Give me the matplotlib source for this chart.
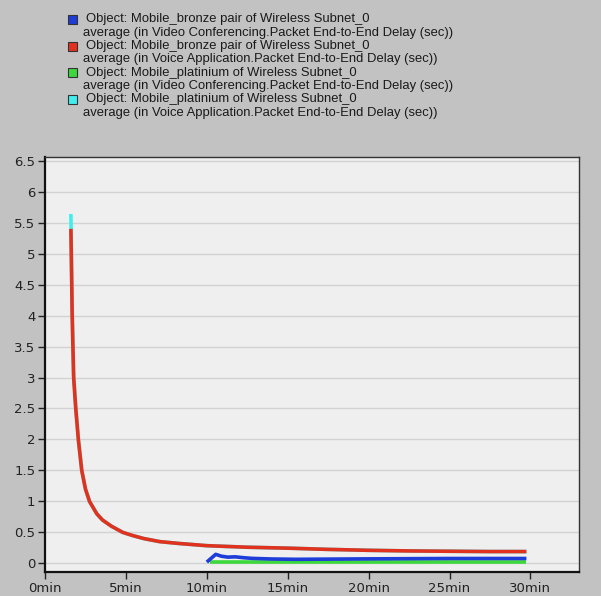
import matplotlib
matplotlib.use("Agg")
import matplotlib.pyplot as plt
from matplotlib.patches import Rectangle

# ---- data (time in minutes, delay in seconds) ----
red_t = [1.6, 1.68, 1.77, 1.9, 2.06, 2.27, 2.5, 2.75, 3.2, 3.55, 4.1, 4.8, 5.4, 6.1,
         7.1, 8.3, 10, 12.5, 15, 17.5, 20, 22.5, 25, 27.5, 29.75]
red_v = [5.40, 4.0, 3.0, 2.5, 2.0, 1.5, 1.2, 1.0, 0.8, 0.7, 0.6, 0.5, 0.45, 0.4,
         0.35, 0.32, 0.285, 0.26, 0.245, 0.225, 0.21, 0.2, 0.195, 0.19, 0.19]

cyan_t = [1.6, 1.68, 1.77, 1.9, 2.06, 2.27, 2.5, 2.75, 3.2, 3.55, 4.1, 4.8, 5.4, 6.1,
          7.1, 8.3, 10, 12.5, 15, 17.5, 20, 22.5, 25, 27.5, 29.75]
cyan_v = [5.64, 4.1, 3.05, 2.52, 2.01, 1.51, 1.2, 1.0, 0.8, 0.7, 0.6, 0.5, 0.45, 0.4,
          0.35, 0.32, 0.285, 0.26, 0.245, 0.225, 0.21, 0.2, 0.195, 0.19, 0.19]

blue_t = [10.0, 10.55, 10.9, 11.3, 11.75, 12.3, 12.8, 14.0, 15.5, 17.5, 20, 22.5, 25, 27.5, 29.75]
blue_v = [0.02, 0.145, 0.115, 0.10, 0.105, 0.09, 0.08, 0.07, 0.065, 0.068, 0.072, 0.075, 0.078, 0.078, 0.078]

green_t = [10.2, 12, 15, 20, 25, 29.75]
green_v = [0.015, 0.015, 0.015, 0.015, 0.015, 0.015]

yticks = [0, 0.5, 1, 1.5, 2, 2.5, 3, 3.5, 4, 4.5, 5, 5.5, 6, 6.5]
ytick_labels = ["0", "0.5", "1", "1.5", "2", "2.5", "3", "3.5", "4", "4.5", "5", "5.5", "6", "6.5"]
xticks = [0, 5, 10, 15, 20, 25, 30]
xtick_labels = ["0min", "5min", "10min", "15min", "20min", "25min", "30min"]

legend_lines = [
    "Object: Mobile_bronze pair of Wireless Subnet_0",
    "average (in Video Conferencing.Packet End-to-End Delay (sec))",
    "Object: Mobile_bronze pair of Wireless Subnet_0",
    "average (in Voice Application.Packet End-to-End Delay (sec))",
    "Object: Mobile_platinium of Wireless Subnet_0",
    "average (in Video Conferencing.Packet End-to-End Delay (sec))",
    "Object: Mobile_platinium of Wireless Subnet_0",
    "average (in Voice Application.Packet End-to-End Delay (sec))",
]

BLUE = "#1e3cd8"
RED = "#e0321e"
GREEN = "#3cd83c"
CYAN = "#40eeee"
colors = [BLUE, RED, GREEN, CYAN]

W, H = 601, 596
fig = plt.figure(figsize=(W / 100, H / 100), dpi=100)
fig.patch.set_facecolor("#c2c2c2")

def fx(px):
    return px / W

def fy(py):
    return 1 - py / H

left, right, top, bottom = 45, 579, 157, 572
ax = fig.add_axes([fx(left), fy(bottom), (right - left) / W, (bottom - top) / H])
ax.set_facecolor("#efefef")

for y in yticks:
    ax.axhline(y, color="#d2d2d2", lw=1.0, zorder=1)

lw = 2.6
ax.plot(green_t, green_v, color=GREEN, lw=lw, zorder=3, solid_capstyle="butt")
ax.plot(cyan_t, cyan_v, color=CYAN, lw=lw, zorder=3, solid_capstyle="butt")
ax.plot(blue_t, blue_v, color=BLUE, lw=lw, zorder=4, solid_capstyle="butt")
ax.plot(red_t, red_v, color=RED, lw=lw, zorder=5, solid_capstyle="butt")

ax.set_xlim(0, 33.0)
ax.set_ylim(-0.14, 6.56)
ax.set_yticks(yticks)
ax.set_yticklabels(ytick_labels)
ax.set_xticks(xticks)
ax.set_xticklabels(xtick_labels)
ax.tick_params(axis="both", direction="out", length=5, width=1, color="#222222",
               labelsize=9.5, labelcolor="#222222", pad=2)
for lab in ax.get_xticklabels() + ax.get_yticklabels():
    lab.set_fontfamily("DejaVu Sans")

for side in ["left", "bottom"]:
    ax.spines[side].set_color("#111111")
    ax.spines[side].set_linewidth(1.6)
for side in ["top", "right"]:
    ax.spines[side].set_color("#333333")
    ax.spines[side].set_linewidth(1.0)

# legend block
row0, step = 19.3, 13.35
for i, txt in enumerate(legend_lines):
    y = row0 + i * step
    x = 86 if i % 2 == 0 else 83
    fig.text(fx(x), fy(y), txt, fontsize=9.4, family="Liberation Sans",
             color="#1a1a1a", va="center", ha="left")
    if i % 2 == 0:
        c = colors[i // 2]
        sq = 9
        fig.patches.append(Rectangle((fx(68), fy(y + sq / 2)), sq / W, sq / H,
                                     transform=fig.transFigure, facecolor=c,
                                     edgecolor="#333333", lw=0.8))

fig.savefig("out.png", dpi=100, facecolor=fig.get_facecolor())
